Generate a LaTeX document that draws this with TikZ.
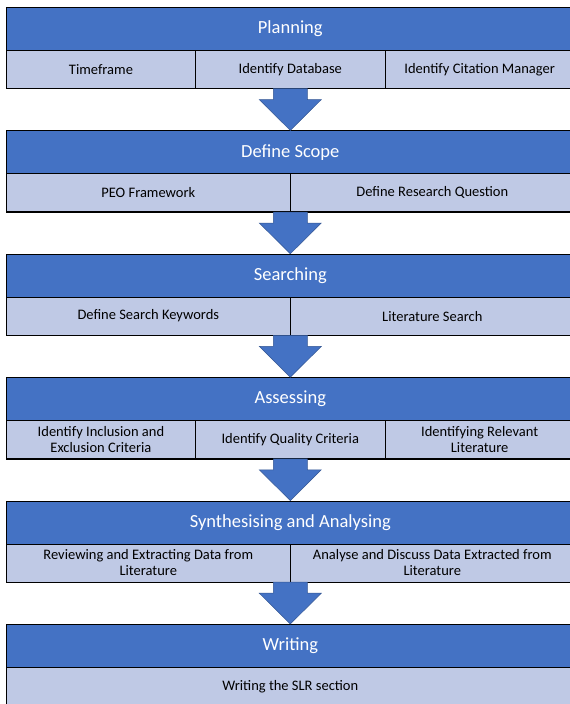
\documentclass[tikz,border=0pt]{standalone}
\usepackage{fontspec}
\setmainfont{Carlito}
\usetikzlibrary{calc}

\definecolor{headblue}{HTML}{4472C4}
\definecolor{cellblue}{HTML}{BFC9E5}

\tikzset{
  stagehead/.style={draw=black, line width=0.6pt, fill=headblue, text=white,
    font=\fontsize{18.5}{21}\selectfont, minimum width=568pt, minimum height=43pt,
    anchor=north west, inner sep=0pt},
  stagecell/.style={draw=black, line width=0.6pt, fill=cellblue, text=black,
    font=\fontsize{14.5}{16}\selectfont, minimum height=38pt,
    anchor=north west, inner sep=0pt, align=center},
  stageframe/.style={draw=black, line width=0.6pt, minimum width=568pt,
    minimum height=81pt, anchor=north west, inner sep=0pt},
  flowarrow/.style={fill=headblue, draw=headblue!75!black, line width=0.5pt}
}

% block arrow from the bottom of one stage to the top of the next
\newcommand{\stagearrow}[2]{%
  \draw[flowarrow] ($(#1.south)+(-17,0)$) -- ($(#1.south)+(17,0)$)
    -- ($(#1.south)+(17,11)$) -- ($(#1.south)+(31,11)$) -- (#2.north)
    -- ($(#1.south)+(-31,11)$) -- ($(#1.south)+(-17,11)$) -- cycle;}

\begin{document}
\begin{tikzpicture}[x=1pt, y=-1pt]
\useasboundingbox (0,0) rectangle (570,704);
\clip (0,0) rectangle (570,704);
\fill[white] (0,0) rectangle (570,704);

% Planning
\node[stagehead] (planhead) at (6, 7) {Planning};
\node[stagecell, minimum width=189.33pt] (plancell1) at (6, 50) {Timeframe};
\node[stagecell, minimum width=189.33pt] (plancell2) at (195.33, 50) {Identify Database};
\node[stagecell, minimum width=189.33pt] (plancell3) at (384.67, 50) {Identify Citation Manager};
\node[stageframe] (plan) at (6, 7) {};
\draw[line width=1.4pt] (plan.south west) -- (plan.south east);

% Define Scope
\node[stagehead] (scopehead) at (6, 130.4) {Define Scope};
\node[stagecell, minimum width=284pt] (scopecell1) at (6, 173.4) {PEO Framework};
\node[stagecell, minimum width=284pt] (scopecell2) at (290, 173.4) {Define Research Question};
\node[stageframe] (scope) at (6, 130.4) {};
\draw[line width=1.4pt] (scope.south west) -- (scope.south east);

% Searching
\node[stagehead] (searchhead) at (6, 253.8) {Searching};
\node[stagecell, minimum width=284pt] (searchcell1) at (6, 296.8) {Define Search Keywords};
\node[stagecell, minimum width=284pt] (searchcell2) at (290, 296.8) {Literature Search};
\node[stageframe] (search) at (6, 253.8) {};
\draw[line width=1.4pt] (search.south west) -- (search.south east);

% Assessing
\node[stagehead] (assesshead) at (6, 377.2) {Assessing};
\node[stagecell, minimum width=189.33pt] (assesscell1) at (6, 420.2) {Identify Inclusion and\\Exclusion Criteria};
\node[stagecell, minimum width=189.33pt] (assesscell2) at (195.33, 420.2) {Identify Quality Criteria};
\node[stagecell, minimum width=189.33pt] (assesscell3) at (384.67, 420.2) {Identifying Relevant\\Literature};
\node[stageframe] (assess) at (6, 377.2) {};
\draw[line width=1.4pt] (assess.south west) -- (assess.south east);

% Synthesising and Analysing
\node[stagehead] (synthhead) at (6, 500.6) {Synthesising and Analysing};
\node[stagecell, minimum width=284pt] (synthcell1) at (6, 543.6) {Reviewing and Extracting Data from\\Literature};
\node[stagecell, minimum width=284pt] (synthcell2) at (290, 543.6) {Analyse and Discuss Data Extracted from\\Literature};
\node[stageframe] (synth) at (6, 500.6) {};
\draw[line width=1.4pt] (synth.south west) -- (synth.south east);

% Writing
\node[stagehead] (writehead) at (6, 624) {Writing};
\node[stagecell, minimum width=568pt] (writecell1) at (6, 667) {Writing the SLR section};
\node[stageframe] (write) at (6, 624) {};

% arrows between stages
\stagearrow{plan}{scope}
\stagearrow{scope}{search}
\stagearrow{search}{assess}
\stagearrow{assess}{synth}
\stagearrow{synth}{write}
\end{tikzpicture}
\end{document}
